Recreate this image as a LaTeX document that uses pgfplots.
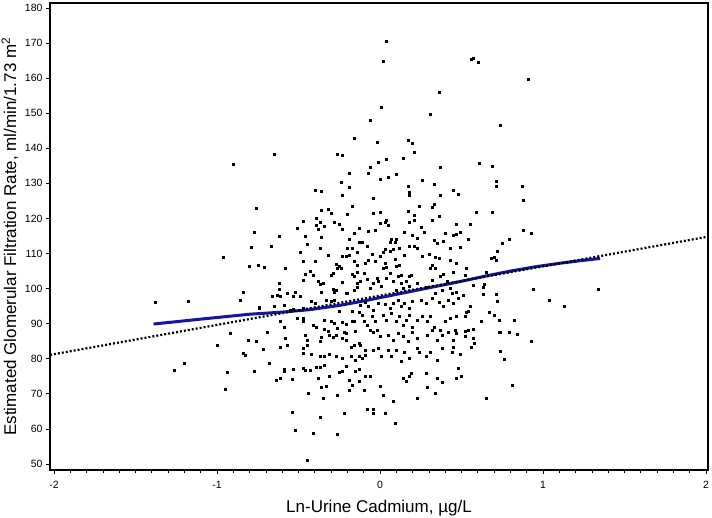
\documentclass[border=0pt]{standalone}
\usepackage{fontspec}
\setmainfont{Liberation Sans}
\usepackage{pgfplots}
\usepackage{pgfplotstable}
\pgfplotsset{compat=1.18}
\usetikzlibrary{calc}
\definecolor{loessblue}{RGB}{20,20,165}
\pgfplotstableread{
x y
-0.90 135.4
-0.76 122.9
-0.77 116.0
-0.79 111.7
-0.96 108.9
-0.80 106.5
-0.75 106.8
-0.84 99.1
-0.86 96.8
-1.38 96.1
-1.18 96.3
-0.74 94.3
-0.92 87.2
-1.00 84.0
-0.81 85.4
-0.76 84.9
-0.84 81.6
-0.83 81.1
-1.20 78.6
-1.26 76.8
-0.94 76.2
-0.77 76.6
-0.95 71.4
-0.16 142.9
-0.65 138.2
-0.26 138.4
-0.23 138.0
-0.19 132.9
-0.24 130.2
-0.19 128.8
-0.40 128.1
-0.36 127.8
-0.23 126.5
-0.17 123.6
-0.36 122.4
-0.32 122.6
-0.30 121.4
-0.20 121.3
-0.47 119.3
-0.39 120.0
-0.37 118.9
-0.39 118.1
-0.34 117.9
-0.28 119.0
-0.25 118.3
-0.23 116.9
-0.51 117.2
-0.38 117.0
-0.13 117.2
-0.16 115.9
-0.62 114.8
-0.46 115.0
-0.36 114.7
-0.19 114.2
-0.67 112.2
-0.45 112.7
-0.37 111.6
-0.20 111.6
-0.17 111.6
-0.13 113.1
-0.49 110.5
-0.32 109.6
-0.23 109.3
-0.21 109.1
-0.19 109.6
-0.14 110.3
-0.47 107.9
-0.40 107.9
-0.71 106.1
-0.58 105.7
-0.27 106.9
-0.25 106.4
-0.26 105.7
-0.24 105.8
-0.16 107.7
-0.14 106.7
-0.43 105.1
-0.41 103.9
-0.46 104.2
-0.30 103.9
-0.29 104.4
-0.17 104.2
-0.16 103.4
-0.14 104.8
-0.47 102.5
-0.38 102.0
-0.35 101.5
-0.23 101.7
-0.14 101.5
-0.62 101.5
-0.62 99.8
-0.37 101.3
-0.29 99.8
-0.28 99.1
-0.27 99.6
-0.21 98.6
-0.20 98.8
-0.16 99.6
-0.14 100.5
-0.57 98.8
-0.52 99.1
-0.53 97.7
-0.49 97.7
-0.66 97.7
-0.63 98.0
-0.61 97.7
-0.36 99.1
-0.42 96.3
-0.40 95.8
-0.33 96.8
-0.30 96.3
-0.28 96.8
-0.74 94.7
-0.65 95.1
-0.59 95.3
-0.55 93.9
-0.53 94.1
-0.47 94.4
-0.25 93.7
-0.17 93.7
-0.13 93.2
-0.51 91.5
-0.47 91.5
-0.47 90.8
-0.61 90.6
-0.34 91.1
-0.30 90.6
-0.28 90.2
-0.23 90.3
-0.21 89.9
-0.17 90.6
-0.16 90.8
-0.41 89.6
-0.39 89.1
-0.59 89.1
-0.69 87.7
-0.34 88.4
-0.32 88.0
-0.26 88.7
-0.22 87.7
-0.21 87.3
-0.15 87.9
-0.46 86.6
-0.36 86.1
-0.31 86.8
-0.29 86.1
-0.58 85.8
-0.45 85.4
-0.37 84.9
-0.27 86.8
-0.23 85.8
-0.21 85.4
-0.18 83.4
-0.16 84.0
-0.13 84.4
-0.61 83.4
-0.57 84.0
-0.72 82.7
-0.47 83.0
-0.45 84.0
-0.47 81.6
-0.42 81.4
-0.37 80.8
-0.34 80.8
-0.31 81.4
-0.27 80.6
-0.23 80.1
-0.18 80.6
-0.15 79.7
-0.13 80.8
-0.68 78.7
-0.59 77.0
-0.59 76.6
-0.53 77.0
-0.47 77.3
-0.46 76.8
-0.43 76.8
-0.39 77.6
-0.37 77.7
-0.34 78.2
-0.23 76.6
-0.21 77.9
-0.15 76.6
-0.13 77.0
-0.64 73.9
-0.61 74.6
-0.54 74.3
-0.38 74.4
-0.31 74.9
-0.25 76.3
-0.19 73.9
-0.17 72.5
-0.19 71.1
-0.13 73.5
-0.36 71.9
-0.33 72.3
-0.44 70.2
-0.35 68.7
-0.26 69.7
-0.54 64.8
-0.22 64.5
-0.37 63.3
-0.52 59.7
-0.41 58.8
-0.26 58.6
-0.45 51.0
0.04 170.6
0.02 164.7
0.36 156.1
0.01 151.6
0.31 149.8
-0.06 147.9
0.17 142.2
0.20 141.3
-0.02 141.6
0.21 138.9
0.04 137.0
0.14 137.3
-0.01 136.1
-0.06 134.7
-0.07 133.0
0.37 134.7
0.00 131.3
0.05 131.7
0.10 132.6
0.26 131.0
0.33 129.8
0.17 129.3
0.18 127.5
0.18 126.5
0.37 126.7
0.45 128.1
0.48 126.9
-0.04 125.8
0.24 123.4
0.33 124.1
0.32 123.1
0.17 122.1
-0.04 121.4
0.00 121.9
0.21 120.9
0.36 120.5
0.32 119.4
0.18 118.8
0.21 119.4
0.00 118.6
0.03 118.8
0.04 119.5
0.05 118.1
0.47 118.3
0.25 117.5
0.27 116.2
-0.07 116.4
-0.03 116.7
0.15 116.2
0.20 115.1
0.23 114.4
0.40 115.9
0.45 115.1
0.47 115.5
-0.11 113.3
-0.08 112.2
0.07 114.1
0.10 114.2
0.06 113.1
0.09 113.3
0.33 113.7
0.35 112.8
0.39 113.4
0.18 112.2
0.21 112.0
0.23 111.6
0.43 111.5
0.49 111.8
0.03 111.3
0.08 111.3
0.12 111.6
-0.05 109.9
0.02 110.3
0.06 110.8
0.00 109.1
-0.09 107.2
-0.07 108.2
-0.03 107.7
0.09 108.4
0.10 106.5
0.12 106.8
0.03 107.2
0.04 106.1
0.02 105.8
0.15 109.6
0.26 109.1
0.30 109.9
0.34 108.9
0.36 108.6
0.32 106.7
0.34 105.9
0.31 105.8
0.43 108.0
0.47 107.2
-0.10 104.4
-0.08 102.7
-0.12 102.0
-0.04 101.5
-0.02 103.1
-0.01 102.0
0.06 104.4
0.04 103.0
0.08 102.2
0.11 103.4
0.13 103.9
0.18 103.4
0.19 103.9
0.16 102.0
0.13 101.5
0.23 101.5
0.28 100.5
0.32 102.5
0.37 103.4
0.41 102.0
0.39 104.2
0.45 104.8
0.34 98.7
0.38 99.6
0.43 100.1
0.47 99.1
0.44 98.7
0.10 99.6
0.14 100.1
0.18 100.6
0.01 100.7
-0.06 100.1
-0.12 95.3
-0.09 96.0
-0.07 94.9
-0.04 93.9
-0.01 95.8
0.03 95.6
0.06 94.4
0.08 95.8
0.11 96.8
0.13 95.0
0.15 95.8
0.18 94.4
0.20 96.3
0.25 96.8
0.28 95.8
0.32 97.2
0.36 96.0
0.39 95.0
0.42 96.8
0.45 95.8
0.48 97.2
-0.11 92.5
-0.10 90.6
-0.08 89.6
-0.05 92.0
-0.03 90.6
-0.02 88.2
-0.06 88.2
-0.04 87.7
0.02 92.5
0.04 91.1
0.07 93.0
0.10 90.6
0.12 92.0
0.14 89.6
0.16 91.1
0.18 92.5
0.20 89.1
0.23 91.1
0.26 92.0
0.29 90.6
0.31 92.0
0.33 89.1
0.37 88.2
0.40 90.6
0.43 91.5
0.46 88.2
0.47 92.0
0.00 86.3
0.05 86.8
0.08 85.4
0.11 87.2
0.14 86.3
0.17 84.9
0.20 87.7
0.23 85.8
0.29 86.8
0.32 88.2
0.35 85.4
0.38 86.8
0.42 87.7
0.45 85.4
-0.12 83.9
-0.09 82.5
-0.04 82.5
-0.01 83.0
0.01 80.6
0.05 82.5
0.07 80.6
0.10 82.5
0.13 79.2
0.15 82.0
0.18 80.1
0.23 83.0
0.24 82.0
0.28 80.6
0.31 82.0
0.35 79.6
0.38 83.0
0.44 82.0
0.45 83.2
-0.11 80.1
-0.09 81.1
0.48 77.3
0.47 87.2
-0.09 74.9
-0.06 74.9
0.14 74.6
0.18 74.9
0.19 76.0
0.28 75.8
0.35 74.4
0.47 74.4
0.16 73.7
0.38 73.2
-0.10 71.1
0.00 72.2
0.02 69.7
0.08 68.0
0.23 68.7
0.29 71.9
0.34 70.3
-0.08 65.6
-0.04 65.6
-0.04 64.5
0.03 64.5
0.09 61.6
0.56 165.4
0.57 165.6
0.60 164.5
0.91 159.7
0.74 146.5
0.61 135.6
0.69 134.8
0.71 130.7
0.71 129.2
0.87 129.3
0.88 125.3
0.59 121.9
0.69 121.9
0.55 118.3
0.49 116.2
0.54 114.1
0.88 116.7
0.93 115.9
0.79 114.2
0.75 112.8
0.72 110.8
0.68 108.6
0.70 108.9
0.71 108.2
0.53 105.8
0.52 103.9
0.65 104.8
0.57 101.0
0.64 101.2
0.63 100.3
0.51 98.2
0.63 98.4
0.71 98.4
0.72 96.3
0.94 99.8
1.04 96.6
0.55 95.1
0.53 93.4
0.54 93.6
0.52 92.2
0.67 93.4
0.70 92.5
0.73 91.1
0.62 90.6
0.82 91.1
0.52 88.0
0.54 88.2
0.57 88.5
0.52 86.4
0.57 86.0
0.58 84.4
0.56 83.3
0.73 87.6
0.74 87.5
0.79 87.6
0.84 87.1
0.93 85.1
0.49 81.3
0.74 82.3
0.76 80.0
0.50 75.1
0.81 72.4
0.65 68.8
1.34 99.9
1.13 95.0
}\scatterdata
\pgfplotstableread{
x y
-1.39 89.9
-1.10 91.3
-0.80 92.7
-0.60 93.3
-0.43 94.0
-0.25 95.2
-0.12 96.3
0.03 97.7
0.18 99.1
0.34 100.6
0.49 102.0
0.65 103.6
0.80 105.0
0.95 106.2
1.10 107.2
1.22 107.9
1.35 108.6
}\loessdata
\begin{document}
\begin{tikzpicture}
\begin{axis}[
  scale only axis, width=658bp, height=467bp,
  xmin=-2.025, xmax=2.012, ymin=48.3, ymax=181.4,
  axis line style={line width=1.5bp, black},
  tick pos=left, tick align=outside,
  xtick={-2,-1,0,1,2}, xticklabels={-2,-1,0,1,2},
  minor x tick num=9,
  ytick={50,60,...,180},
  major tick length=4bp, minor tick length=3bp,
  every tick/.style={black, line width=0.8bp},
  tick label style={font=\fontsize{10.5bp}{12bp}\selectfont},
  xticklabel style={yshift=-4bp},
  /pgf/number format/assume math mode=true,
  xlabel={Ln-Urine Cadmium, µg/L},
  ylabel={Estimated Glomerular Filtration Rate, ml/min/1.73 m\textsuperscript{2}},
  every axis x label/.style={at={(axis description cs:0.5,-0.0814)}, anchor=center, font=\fontsize{17bp}{19bp}\selectfont},
  every axis y label/.style={at={(axis description cs:-0.0608,0.5)}, rotate=90, anchor=center, font=\fontsize{17bp}{19bp}\selectfont},
]
\addplot[only marks, mark=square*, mark size=1bp, black] table[x=x,y=y] {\scatterdata};
\addplot[loessblue, line width=3bp, no marks] table[x=x,y=y] {\loessdata};
\addplot[black, line width=2.2bp, dash pattern=on 2bp off 2bp, no marks] coordinates {(-2.025,81.1) (2.012,114.8)};
\end{axis}
\pgfresetboundingbox
\path[use as bounding box] ($(current axis.south west)+(-50bp,-48bp)$) rectangle ($(current axis.north east)+(4bp,3bp)$);
\end{tikzpicture}
\end{document}
